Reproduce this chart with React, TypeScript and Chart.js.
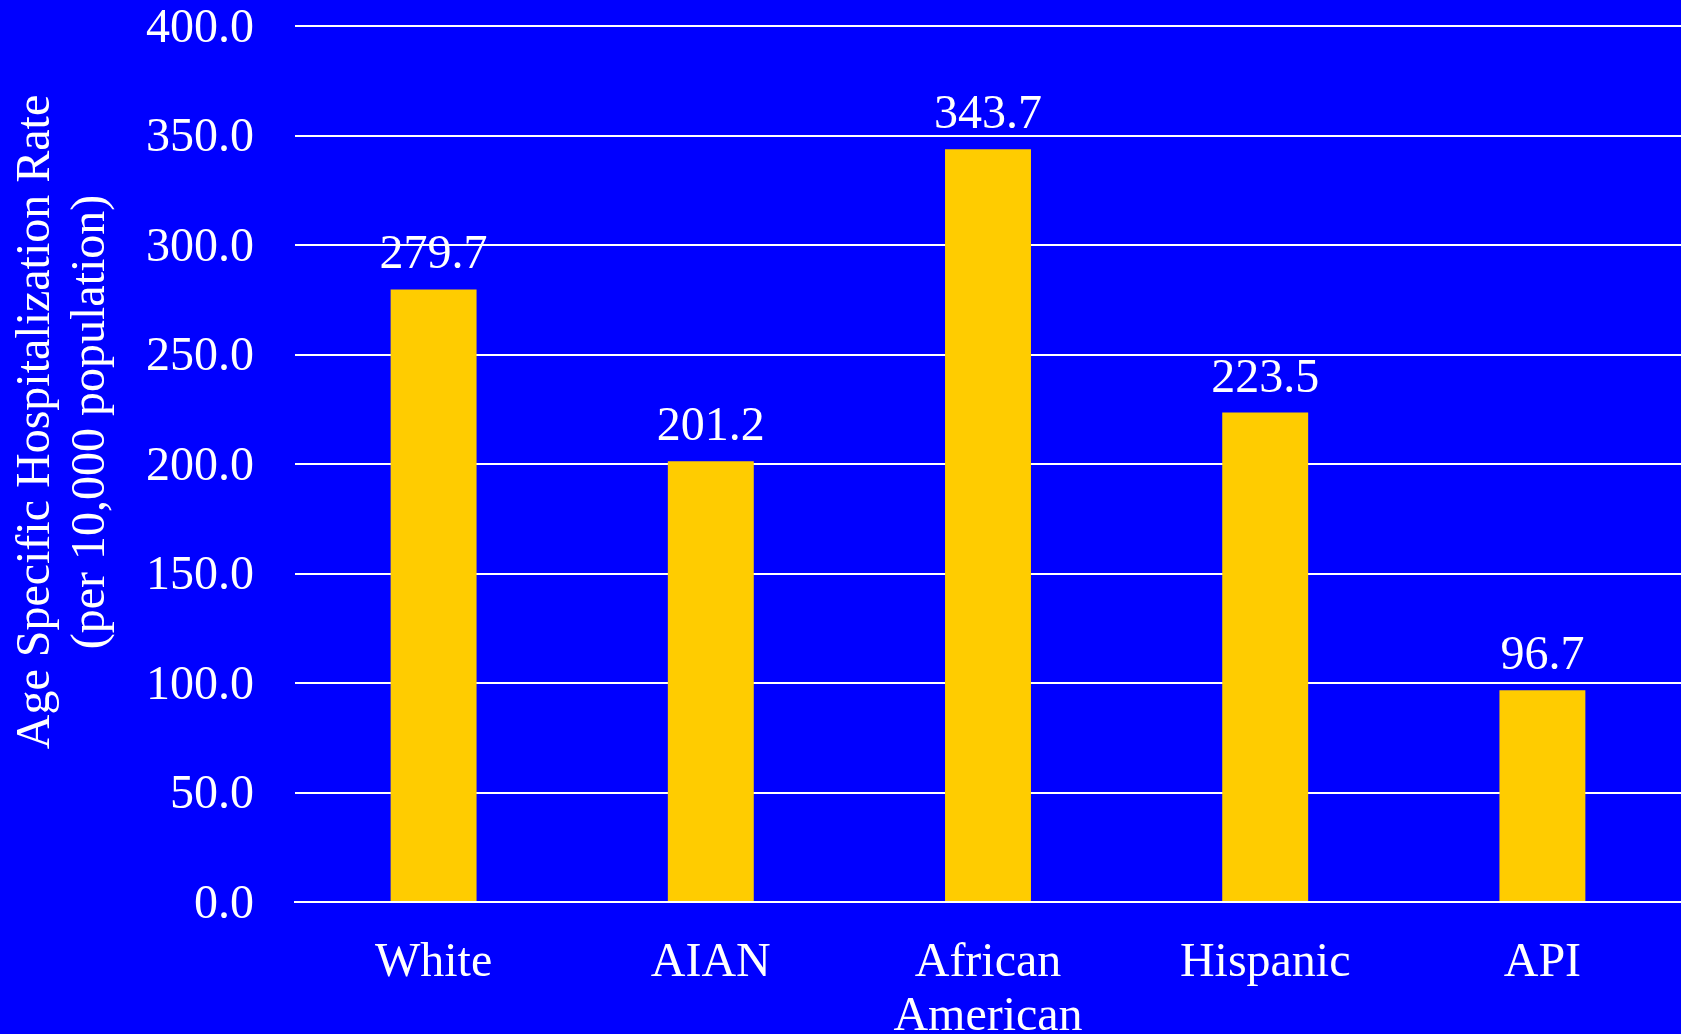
import React, { useEffect, useRef } from "react";
import { Chart, registerables } from "chart.js";

Chart.register(...registerables);

const categories: (string | string[])[] = ["White", "AIAN", ["African", "American"], "Hispanic", "API"];
const rates: number[] = [279.7, 201.2, 343.7, 223.5, 96.7];
const yTitleLines: string[] = ["Age Specific Hospitalization Rate", "(per 10,000 population)"];
const yMin = 0;
const yMax = 400;
const yStep = 50;

const FONT = "'Liberation Serif', 'Times New Roman', Times, serif";
const BG = "#0000FF";
const BAR = "#FFCC00";
const W = 1681;
const H = 1034;

export default function App() {
  const ref = useRef<HTMLCanvasElement | null>(null);

  useEffect(() => {
    document.body.style.margin = "0";
    document.body.style.background = BG;
    const canvas = ref.current;
    if (!canvas) return;

    const bgPlugin = {
      id: "bgFill",
      beforeDraw(chart: any) {
        const ctx = chart.ctx;
        ctx.save();
        ctx.fillStyle = BG;
        ctx.fillRect(0, 0, chart.width, chart.height);
        ctx.restore();
      },
    };

    const valueLabels = {
      id: "valueLabels",
      afterDatasetsDraw(chart: any) {
        const ctx = chart.ctx;
        const meta = chart.getDatasetMeta(0);
        ctx.save();
        ctx.fillStyle = "#FFFFFF";
        ctx.font = `48px ${FONT}`;
        ctx.textAlign = "center";
        ctx.textBaseline = "alphabetic";
        meta.data.forEach((bar: any, i: number) => {
          ctx.fillText(rates[i].toFixed(1), bar.x, bar.y - 21);
        });
        ctx.restore();
      },
    };

    const yTitle = {
      id: "yTitle",
      afterDraw(chart: any) {
        const ctx = chart.ctx;
        ctx.save();
        ctx.fillStyle = "#FFFFFF";
        ctx.font = `48px ${FONT}`;
        ctx.textAlign = "center";
        ctx.textBaseline = "alphabetic";
        const xs = [49, 104];
        yTitleLines.forEach((line, i) => {
          ctx.save();
          ctx.translate(xs[i], 422);
          ctx.rotate(-Math.PI / 2);
          ctx.fillText(line, 0, 0);
          ctx.restore();
        });
        ctx.restore();
      },
    };

    const chart = new Chart(canvas, {
      type: "bar",
      data: {
        labels: categories,
        datasets: [
          {
            data: rates,
            backgroundColor: BAR,
            borderWidth: 0,
            barPercentage: 0.31,
            categoryPercentage: 1,
          },
        ],
      },
      options: {
        animation: false,
        responsive: false,
        maintainAspectRatio: false,
        devicePixelRatio: 1,
        layout: { padding: { top: 26, right: 0, left: 0, bottom: 0 } },
        plugins: {
          legend: { display: false },
          tooltip: { enabled: false },
          title: { display: false },
        },
        scales: {
          x: {
            grid: { display: false, drawTicks: false },
            border: { display: true, color: "#FFFFFF", width: 2 },
            ticks: {
              color: "#FFFFFF",
              font: { family: FONT, size: 48, lineHeight: 1.13 },
              padding: 34,
              maxRotation: 0,
              autoSkip: false,
            },
            afterFit(scale: any) {
              scale.height = 132;
            },
          },
          y: {
            min: yMin,
            max: yMax,
            grid: {
              color: "#FFFFFF",
              lineWidth: 2,
              drawTicks: true,
              tickLength: 41,
              tickColor: "rgba(0,0,0,0)",
            },
            border: { display: false },
            ticks: {
              stepSize: yStep,
              color: "#FFFFFF",
              font: { family: FONT, size: 48, lineHeight: 1 },
              padding: 0,
              labelOffset: 3,
              callback: (v: any) => Number(v).toFixed(1),
            },
            afterFit(scale: any) {
              scale.width = 295;
            },
          },
        },
      },
      plugins: [bgPlugin, valueLabels, yTitle],
    });

    return () => chart.destroy();
  }, []);

  return (
    <div style={{ width: W, height: H, background: BG }}>
      <canvas ref={ref} width={W} height={H} style={{ display: "block", width: W, height: H }} />
    </div>
  );
}
